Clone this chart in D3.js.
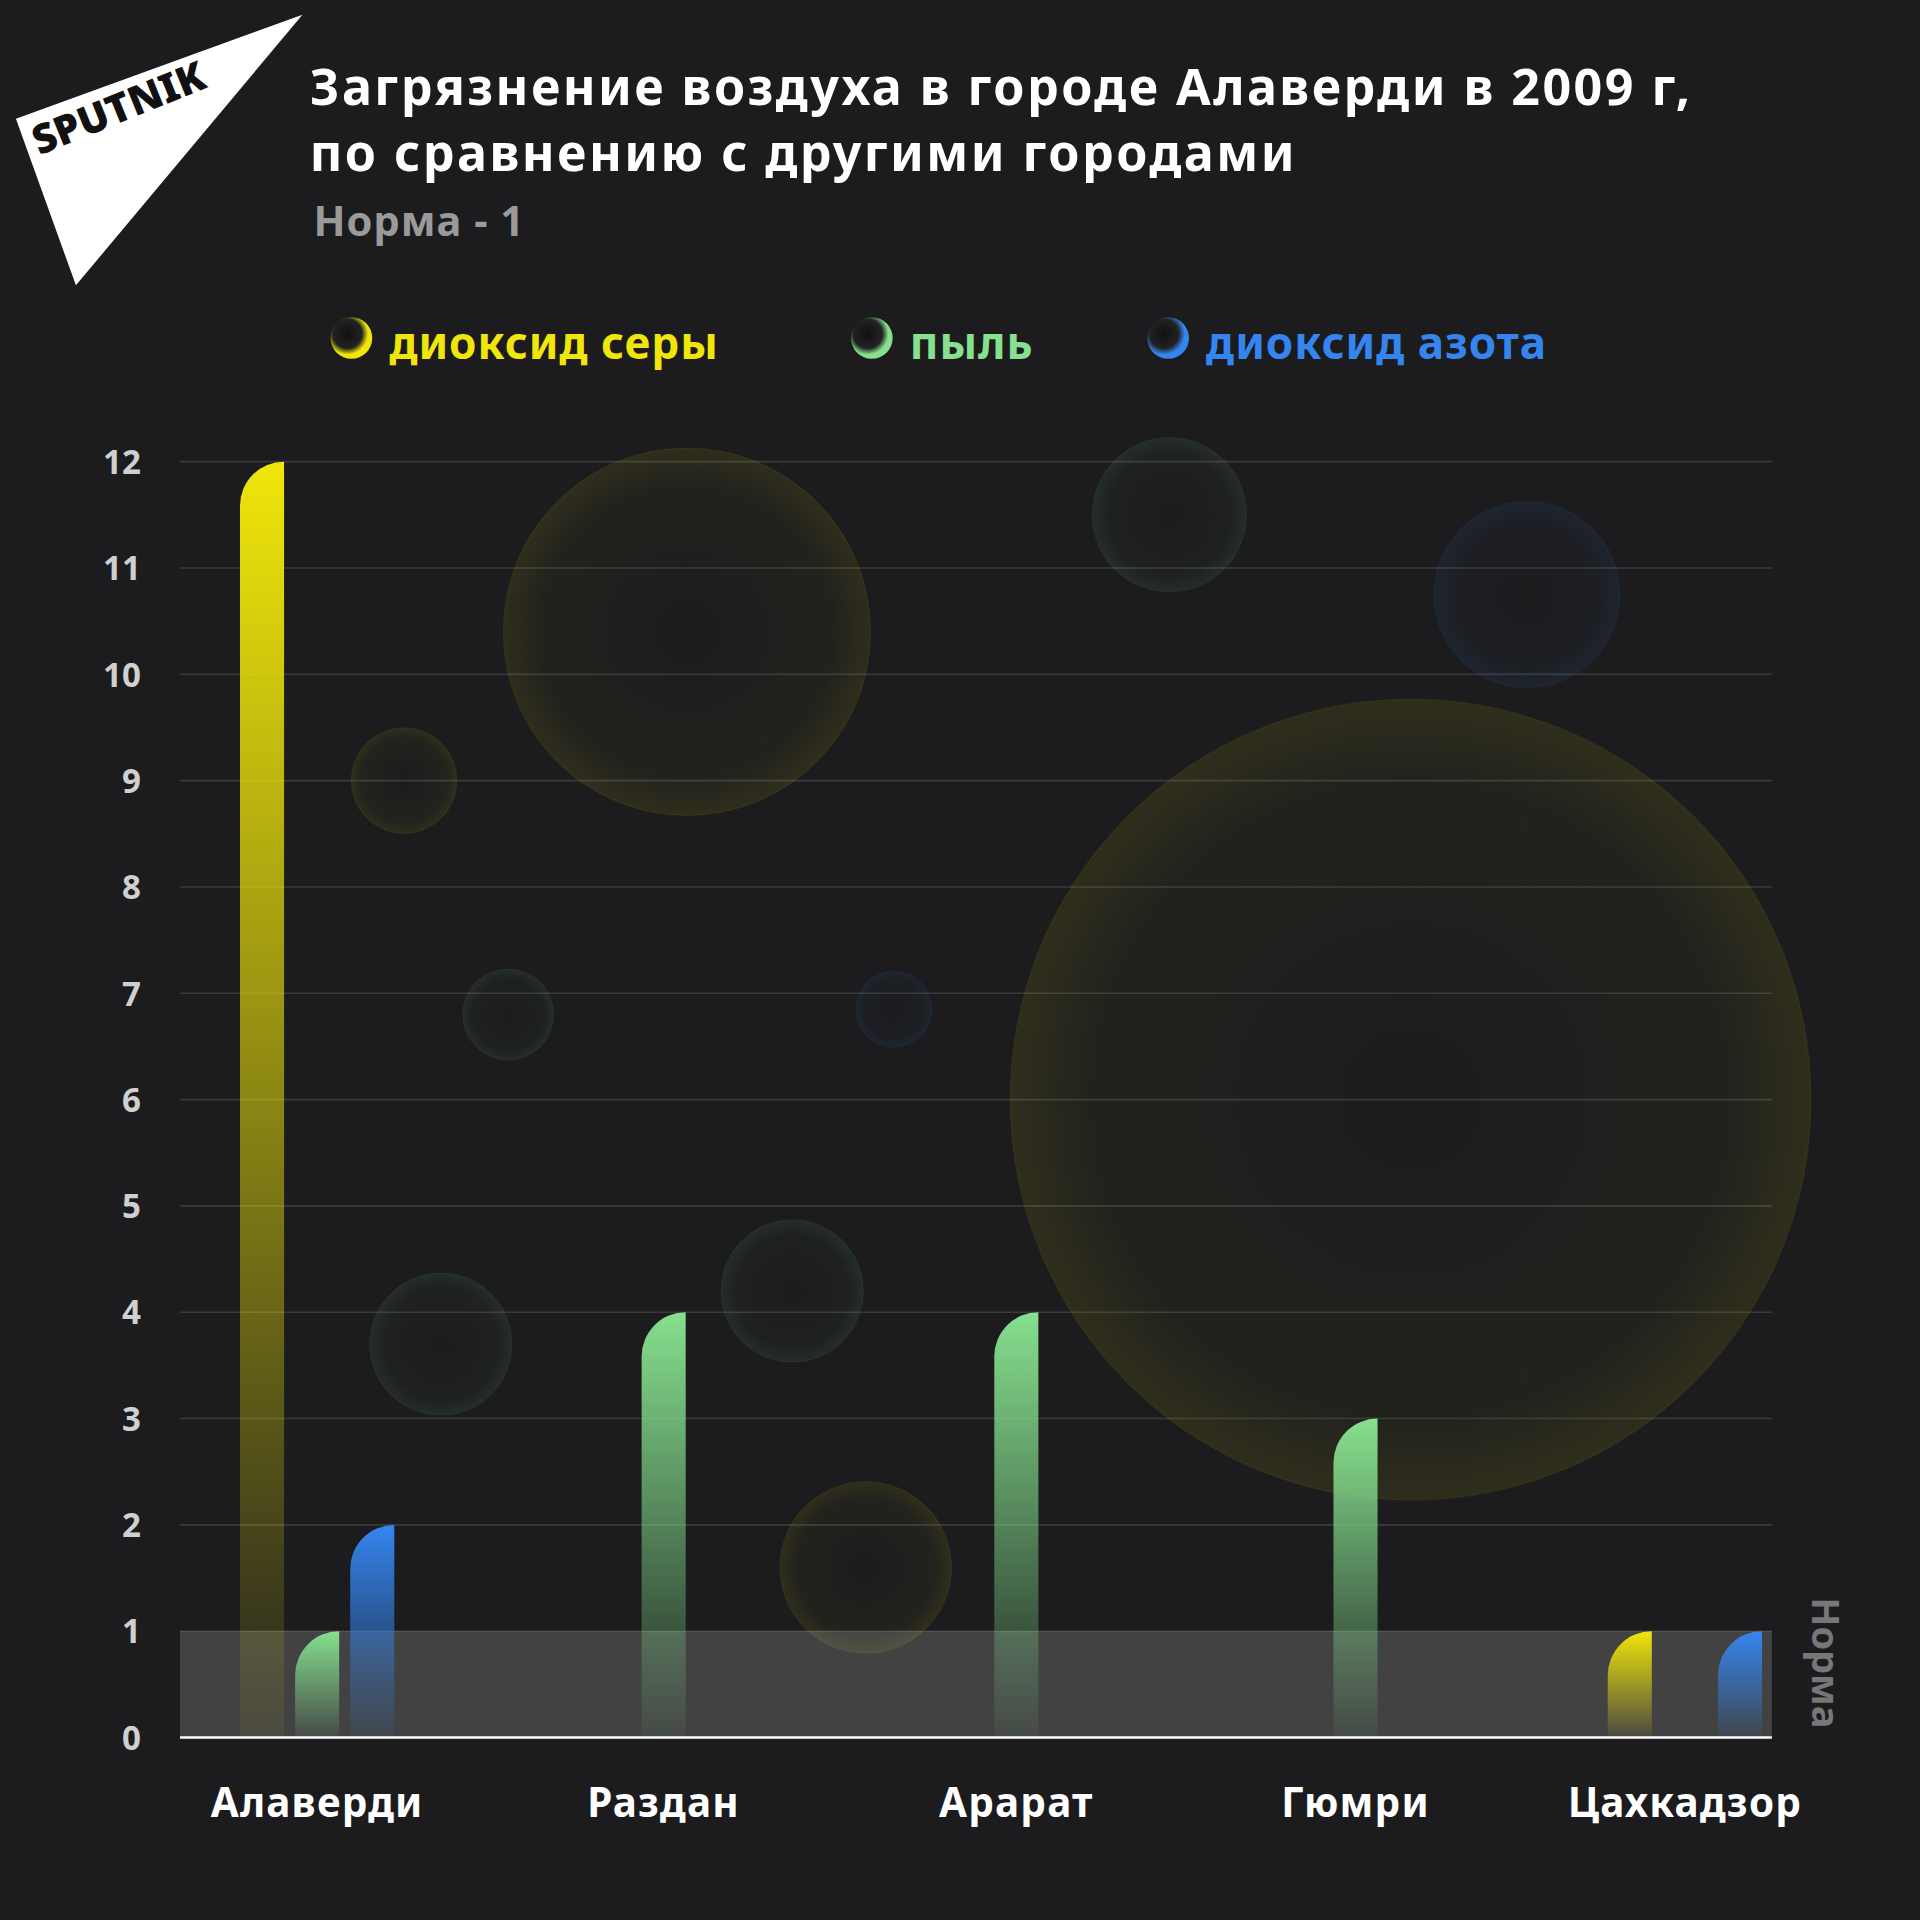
<!DOCTYPE html>
<html><head><meta charset="utf-8">
<script src="https://cdn.jsdelivr.net/npm/d3@7"></script>
<style>body{margin:0;background:#1c1c1e}text{font-family:"Noto Sans",sans-serif}</style>
</head><body>
<script>
// data
var cities = ["Алаверди", "Раздан", "Арарат", "Гюмри", "Цахкадзор"];
var sulfur = [12, null, null, null, 1];
var dust = [1, 4, 4, 3, null];
var nitrogen = [2, null, null, null, 1];
var yTicks = [0,1,2,3,4,5,6,7,8,9,10,11,12];
var seriesNames = ["диоксид серы", "пыль", "диоксид азота"];
var seriesColors = ["#f0e60a", "#86e08e", "#3585f0"];
// decorative bubbles: [x px, y value, r px, series]
var bubbles = [[561,10.4,150,0],[330,9,43,0],[415,6.8,37,1],[360,3.7,58,1],[647,4.2,58,1],
  [707,1.6,70,0],[730,6.85,31,2],[955,11.5,63,1],[1247,10.75,76,2],[1152,6,327,0]];

var W = 1568;
var svg = d3.select("body").append("svg").attr("width",1920).attr("height",1920)
  .attr("viewBox","0 0 "+W+" "+W);
svg.append("rect").attr("width",W).attr("height",W).attr("fill","#1c1c1e");
var defs = svg.append("defs");

var y = d3.scaleLinear().domain([0,12]).range([1419,377]);
var x = d3.scaleOrdinal().domain(cities).range([259,542,830,1107,1376]);
var left = 147, right = 1447, bw = 36, off = 45;

// gradients
seriesColors.forEach(function(c,i){
  var g = defs.append("linearGradient").attr("id","bar"+i).attr("x1",0).attr("y1",0).attr("x2",0).attr("y2",1);
  g.append("stop").attr("offset","0%").attr("stop-color",c);
  g.append("stop").attr("offset","100%").attr("stop-color",c).attr("stop-opacity",0.05);
  var r = defs.append("radialGradient").attr("id","bub"+i);
  r.append("stop").attr("offset","0%").attr("stop-color",c).attr("stop-opacity",0.0);
  r.append("stop").attr("offset","80%").attr("stop-color",c).attr("stop-opacity",0.03);
  r.append("stop").attr("offset","100%").attr("stop-color",c).attr("stop-opacity",0.09);
  var l = defs.append("radialGradient").attr("id","leg"+i).attr("cx","40%").attr("cy","40%");
  l.append("stop").attr("offset","0%").attr("stop-color","#111");
  l.append("stop").attr("offset","70%").attr("stop-color","#222");
  l.append("stop").attr("offset","100%").attr("stop-color",c);
});

// gridlines
svg.append("g").selectAll("line").data(yTicks.slice(1)).join("line")
  .attr("x1",left).attr("x2",right).attr("y1",d=>y(d)).attr("y2",d=>y(d))
  .attr("stroke","#3a3a3c").attr("stroke-width",1.3);
svg.append("g").selectAll("text").data(yTicks).join("text")
  .attr("x",115).attr("y",d=>y(d)+10).attr("text-anchor","end")
  .attr("fill","#d0d0d0").attr("font-size",27).attr("font-weight",700).text(d=>d);

// bubbles
svg.append("g").selectAll("circle").data(bubbles).join("circle")
  .attr("cx",d=>d[0]).attr("cy",d=>y(d[1])).attr("r",d=>d[2])
  .attr("fill",d=>"url(#bub"+d[3]+")").attr("stroke",d=>seriesColors[d[3]]).attr("stroke-opacity",0.06);

// norm band
svg.append("rect").attr("x",left).attr("width",right-left).attr("y",y(1)).attr("height",y(0)-y(1))
  .attr("fill","#ffffff").attr("fill-opacity",0.17);
svg.append("text").attr("transform","translate(1480,1358) rotate(90)").attr("text-anchor","middle")
  .attr("fill","#777").attr("font-size",31).attr("font-weight",700).text("Норма");

// bars
function barPath(cx,v){
  var x0 = cx-bw/2, x1 = cx+bw/2, top = y(v), bot = y(0), r = bw;
  return "M"+x0+","+bot+"L"+x0+","+(top+r)+"A"+r+","+r+" 0 0 1 "+x1+","+top+"L"+x1+","+bot+"Z";
}
[sulfur,dust,nitrogen].forEach(function(s,i){
  svg.append("g").selectAll("path").data(cities.map((c,j)=>({c:c,v:s[j]})).filter(d=>d.v!=null)).join("path")
    .attr("d",d=>barPath(x(d.c)+(i-1)*off,d.v)).attr("fill","url(#bar"+i+")");
});
svg.append("line").attr("x1",left).attr("x2",right).attr("y1",y(0)).attr("y2",y(0))
  .attr("stroke","#fff").attr("stroke-width",2);

// city labels
svg.append("g").selectAll("text").data(cities).join("text")
  .attr("x",d=>x(d)).attr("y",1484).attr("text-anchor","middle")
  .attr("fill","#fff").attr("font-size",33).attr("font-weight",700).attr("letter-spacing",1).text(d=>d);

// legend
var legX = [287,712,954];
seriesNames.forEach(function(n,i){
  svg.append("circle").attr("cx",legX[i]).attr("cy",276).attr("r",17).attr("fill","url(#leg"+i+")");
  svg.append("text").attr("x",legX[i]+31).attr("y",293).attr("fill",seriesColors[i])
    .attr("font-size",36).attr("font-weight",700).attr("letter-spacing",0.8).text(n);
});

// title
svg.append("text").attr("x",253).attr("y",86).attr("fill","#fff").attr("font-size",41).attr("font-weight",700)
  .attr("letter-spacing",2).text("Загрязнение воздуха в городе Алаверди в 2009 г,");
svg.append("text").attr("x",253).attr("y",140).attr("fill","#fff").attr("font-size",41).attr("font-weight",700)
  .attr("letter-spacing",2).text("по сравнению с другими городами");
svg.append("text").attr("x",256).attr("y",193).attr("fill","#9a9a9a").attr("font-size",34).attr("font-weight",700)
  .attr("letter-spacing",0.8).text("Норма - 1");

// logo
svg.append("polygon").attr("points","13,97 247,12 62,233").attr("fill","#fff");
svg.append("text").attr("transform","translate(32,127) rotate(-22)").attr("fill","#111")
  .attr("font-size",33).attr("font-weight",900).text("SPUTNIK");
</script>
</body></html>
